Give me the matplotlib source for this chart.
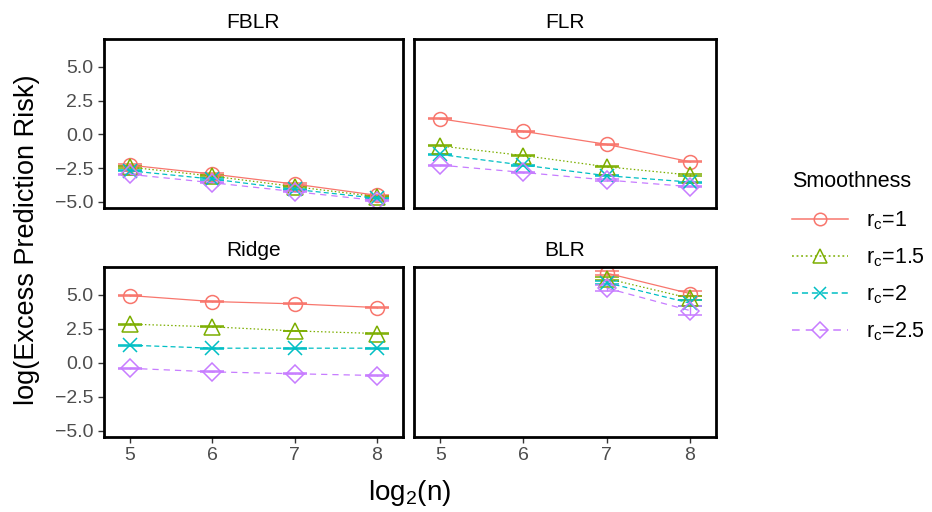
# -*- coding: utf8
'''
Excess prediction risk vs sample size, one panel per method,
one line per smoothness level.
'''
import matplotlib
matplotlib.use('Agg')
from matplotlib import pyplot as plt
from matplotlib.lines import Line2D

plt.rcParams['font.family'] = ['Liberation Sans', 'DejaVu Sans']

log2n = [5, 6, 7, 8]
smooth_labels = ['r$_\\mathregular{c}$=1', 'r$_\\mathregular{c}$=1.5',
                 'r$_\\mathregular{c}$=2', 'r$_\\mathregular{c}$=2.5']
methods = ['FBLR', 'FLR', 'Ridge', 'BLR']

# mean log excess risk, one list per smoothness level
fblr = [[-2.28, -2.94, -3.68, -4.51],
        [-2.43, -3.09, -3.87, -4.61],
        [-2.70, -3.31, -4.07, -4.73],
        [-2.96, -3.58, -4.24, -4.90]]
fblr_se = [[0.05, 0.05, 0.05, 0.05]] * 4

flr = [[1.15, 0.22, -0.74, -2.03],
       [-0.86, -1.57, -2.40, -3.01],
       [-1.49, -2.28, -3.06, -3.53],
       [-2.28, -2.82, -3.38, -3.87]]
flr_se = [[0.04, 0.04, 0.04, 0.04]] * 4

ridge = [[4.95, 4.51, 4.34, 4.07],
         [2.85, 2.65, 2.35, 2.16],
         [1.30, 1.08, 1.08, 1.08],
         [-0.40, -0.66, -0.80, -0.93]]
ridge_se = [[0.04, 0.03, 0.03, 0.03]] * 4

# BLR only has the two largest sample sizes
blr_x = [7, 8]
blr = [[6.60, 5.10],
       [6.20, 4.75],
       [5.90, 4.40],
       [5.50, 3.85]]
blr_se = [[0.15, 0.20],
          [0.10, 0.15],
          [0.10, 0.25],
          [0.20, 0.35]]

colors = ['#F8766D', '#7CAE00', '#00BFC4', '#C77CFF']
markers = ['o', '^', 'x', 'D']
msizes = [10, 11.5, 10, 9]
dashes = [None, (1.2, 1.8), (4, 2.5), (5, 4)]

fig = plt.figure(figsize=(9.32, 5.12), dpi=100)
boxes = [(104, 39, 403, 208), (414, 39, 716, 208),
         (104, 267, 403, 437), (414, 267, 716, 437)]
W, H = 932.0, 512.0
axes = []
for (x0, y0, x1, y1) in boxes:
    axes.append(fig.add_axes([x0 / W, 1 - y1 / H, (x1 - x0) / W, (y1 - y0) / H]))

panel_data = [(log2n, fblr, fblr_se), (log2n, flr, flr_se),
              (log2n, ridge, ridge_se), (blr_x, blr, blr_se)]

for i, ax in enumerate(axes):
    xs, ys, ses = panel_data[i]
    for k in range(4):
        ln = ax.errorbar(xs, ys[k], yerr=ses[k], color=colors[k],
                         marker=markers[k], ms=msizes[k], mfc='none',
                         mew=1.1, lw=0.9, elinewidth=1.0, capsize=8.5,
                         capthick=1.6)
        if dashes[k] is not None:
            ln[0].set_dashes(dashes[k])
    ax.set_xlim(4.685, 8.315)
    ax.set_ylim(-5.45, 7.05)
    ax.set_xticks(log2n)
    ax.set_yticks([-5.0, -2.5, 0.0, 2.5, 5.0])
    ax.set_title(methods[i], fontsize=15, pad=8)
    for sp in ax.spines.values():
        sp.set_linewidth(2.0)
        sp.set_color('black')
    ax.tick_params(direction='out', length=4, width=1.0, color='#333333',
                   labelcolor='#4D4D4D', labelsize=14)
    if i in (0, 1):
        ax.tick_params(axis='x', bottom=False, labelbottom=False)
    if i in (1, 3):
        ax.tick_params(axis='y', left=False, labelleft=False)
    else:
        ax.set_yticklabels(['%.1f' % v if v >= 0 else '\u2212%.1f' % -v
                            for v in [-5.0, -2.5, 0.0, 2.5, 5.0]])

fig.text(27 / W, 1 - 240 / H, 'log(Excess Prediction Risk)', rotation=90,
         ha='center', va='center', fontsize=19.5)
fig.text(410 / W, 1 - 493 / H, 'log$_\\mathregular{2}$(n)', ha='center',
         va='center', fontsize=20)

handles = []
for k in range(4):
    h = Line2D([0], [0], color=colors[k], marker=markers[k], ms=msizes[k] * 0.9,
               mfc='none', mew=1.1, lw=1.1)
    if dashes[k] is not None:
        h.set_dashes(dashes[k])
    handles.append(h)
leg = fig.legend(handles, smooth_labels, title='Smoothness', loc='upper left',
                 bbox_to_anchor=(773 / W, 1 - 152 / H), frameon=False,
                 fontsize=15.5, title_fontsize=15.5, handlelength=2.6,
                 labelspacing=0.68, handletextpad=0.8)
leg._legend_box.align = 'left'
leg._legend_box.sep = 12

fig.savefig('out.png', dpi=100)
